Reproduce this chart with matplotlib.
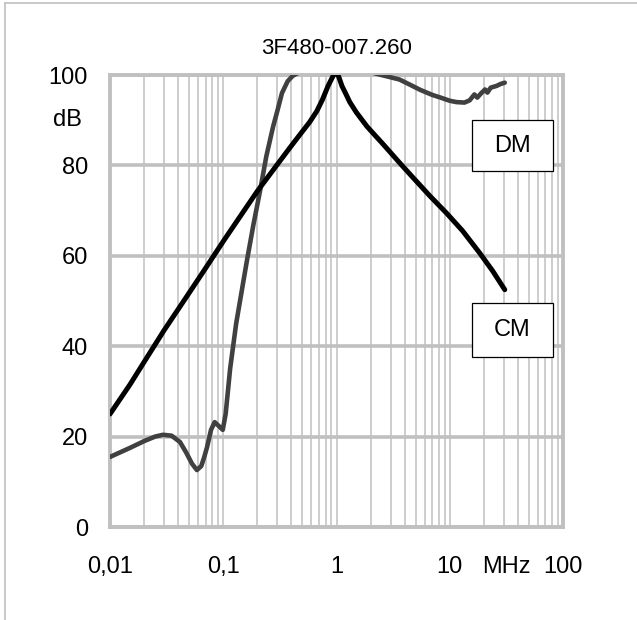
import matplotlib.pyplot as plt
from matplotlib.lines import Line2D
from matplotlib.patches import Rectangle
from matplotlib.ticker import FixedLocator, NullFormatter

plt.rcParams['font.family'] = ['Liberation Sans', 'DejaVu Sans']

title = "3F480-007.260"

# CM curve (black)
cm_f = [0.01, 0.015, 0.02, 0.03, 0.05, 0.07, 0.1, 0.15, 0.2, 0.3, 0.39,
        0.475, 0.58, 0.67, 0.75, 0.84, 0.92, 0.97, 1.0, 1.05, 1.12, 1.2, 1.31,
        1.5, 1.86, 2.6, 3.6, 4.7, 6.7, 9.4, 13, 18.4, 24, 30.6]
cm_db = [25, 31.5, 36.5, 43.5, 51.8, 57.3, 63.2, 69.7, 74.3, 80.2, 84,
         86.8, 89.6, 92, 94.5, 97.5, 99.5, 100.5, 100.8, 99.5, 97.5, 96, 94,
         91.7, 88.6, 84.6, 80.6, 77.4, 73.2, 69.4, 65.5, 60.6, 56.6, 52.5]

# DM curve (grey)
dm_f = [0.01, 0.015, 0.02, 0.025, 0.0294, 0.035, 0.0415, 0.047, 0.053, 0.0585,
        0.064, 0.068, 0.072, 0.078, 0.084, 0.09, 0.099, 0.105, 0.115, 0.13,
        0.162, 0.185, 0.21, 0.24, 0.275, 0.3, 0.33, 0.37, 0.41, 0.46, 0.6,
        1.0, 1.6, 2.1, 2.4, 3.0, 3.6, 4.5, 5.5, 7, 8.3, 10, 11.5, 13.5, 15,
        16.5, 17.5, 19, 20.5, 21.5, 23, 26, 28, 30.6]
dm_db = [15.5, 17.5, 19, 20, 20.4, 20.2, 18.8, 16.5, 14, 12.6,
         13.5, 15.5, 17.7, 21.5, 23.2, 22.5, 21.5, 25, 35, 45,
         59, 67, 74, 82, 88.5, 92, 96, 98.6, 99.8, 100.5, 101,
         101.5, 101, 100.5, 100.1, 99.5, 99, 97.8, 96.7, 95.6, 95, 94.3, 94, 93.9, 94.4,
         95.7, 95.0, 96.0, 96.8, 96.1, 97.2, 97.6, 98.0, 98.3]

x_ticks = [0.01, 0.1, 1, 10, 100]
x_labels = ["0,01", "0,1", "1", "10", "100"]
y_ticks = [0, 20, 40, 60, 80, 100]
minor_x = [m * d for d in [0.01, 0.1, 1, 10] for m in range(2, 10)]

grid_c = "#c0c0c0"
fs = 17

fig = plt.figure(figsize=(6.37, 6.2), dpi=100)
ax = fig.add_axes([110 / 637, 93 / 620, 453 / 637, 452 / 620])

ax.set_xscale("log")
ax.set_xlim(0.01, 100)
ax.set_ylim(0, 100)

ax.xaxis.set_major_locator(FixedLocator(x_ticks))
ax.xaxis.set_minor_locator(FixedLocator(minor_x))
ax.xaxis.set_minor_formatter(NullFormatter())
ax.set_xticklabels(x_labels)
ax.set_yticks(y_ticks)
ax.tick_params(axis="both", which="both", length=0, labelsize=fs, colors="black")
ax.tick_params(axis="x", pad=21)
ax.tick_params(axis="y", pad=16)

ax.grid(True, axis="x", which="both", color=grid_c, linewidth=1.1)
ax.grid(True, axis="y", which="major", color=grid_c, linewidth=2.6)
ax.set_axisbelow(True)
for s in ax.spines.values():
    s.set_color(grid_c)
    s.set_linewidth(2.8)

ax.plot(dm_f, dm_db, color="#404040", linewidth=3.3, solid_capstyle="round", zorder=3)
ax.plot(cm_f, cm_db, color="black", linewidth=3.6, solid_capstyle="round", zorder=4)

ax.set_title(title, fontsize=fs - 1, pad=15)
ax.text(-0.095, 0.9, "dB", transform=ax.transAxes, fontsize=fs, ha="center", va="center")
ax.text(10 ** 1.5, -0.088, "MHz", transform=ax.get_xaxis_transform(), fontsize=fs,
        ha="center", va="center")

# label boxes
for name, y0, y1 in [("DM", 0.788, 0.900), ("CM", 0.376, 0.496)]:
    ax.add_patch(Rectangle((0.799, y0), 0.179, y1 - y0, transform=ax.transAxes,
                           facecolor="white", edgecolor="black", linewidth=0.9, zorder=5))
    ax.text(0.8885, (y0 + y1) / 2, name, transform=ax.transAxes, fontsize=fs,
            ha="center", va="center", zorder=6)

# outer frame
fig.add_artist(Line2D([4.5 / 637, 4.5 / 637], [0, 1 - 3 / 620], color=grid_c, linewidth=1.2))
fig.add_artist(Line2D([4.5 / 637, 1], [1 - 3 / 620, 1 - 3 / 620], color=grid_c, linewidth=1.2))

fig.savefig("out.png", dpi=100)
